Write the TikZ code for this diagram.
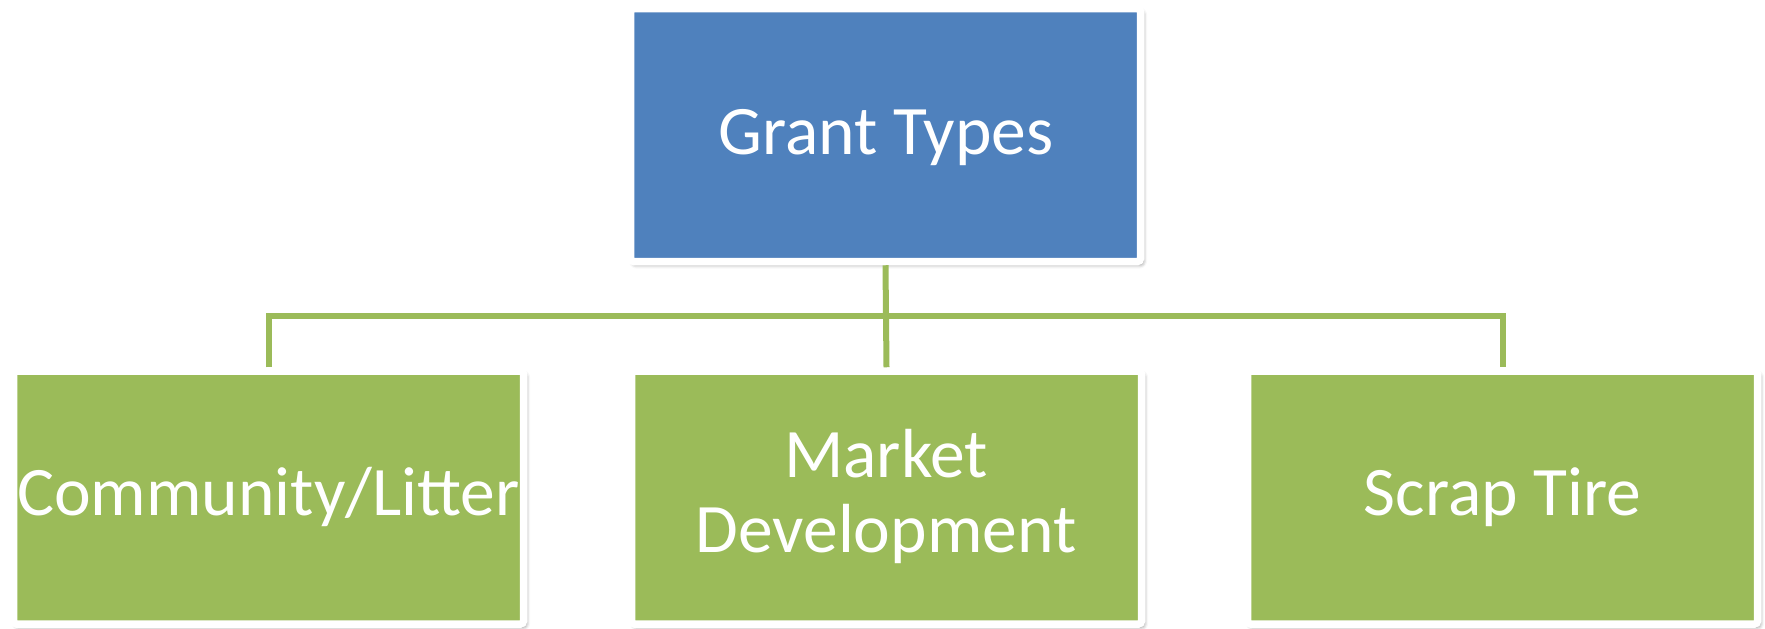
\documentclass[tikz,border=0pt]{standalone}
\usepackage{fontspec}
\setmainfont{Carlito}
\usetikzlibrary{shadows.blur}
\definecolor{gblue}{HTML}{4F81BD}
\definecolor{ggreen}{HTML}{9BBB59}
\tikzset{
  card/.style={draw=white, line width=7.5pt, rounded corners=3pt,
    minimum width=510pt, minimum height=253pt, inner sep=0pt,
    blur shadow={shadow xshift=2.5pt, shadow yshift=-3pt, shadow blur radius=4pt, shadow opacity=50}},
  bluecard/.style={card, fill=gblue},
  greencard/.style={card, fill=ggreen},
  txt/.style={text=white, font=\fontsize{69.5}{75}\selectfont, align=center, inner sep=0pt},
  conn/.style={draw=ggreen, line width=6pt}
}
\begin{document}
\begin{tikzpicture}[x=1pt,y=-1pt]
\useasboundingbox (0,0) rectangle (1765,629);
\node[bluecard] (T) at (885.5,135) {};
\node[greencard] (L) at (268.5,497.5) {};
\node[greencard] (M) at (886.5,497.5) {};
\node[greencard] (R) at (1502.5,497.5) {};
\coordinate (hub) at (886,316);
\draw[conn] (T.south) -- (M.north);
\draw[conn] (L.north) |- (hub) -| (R.north);
\node[txt, anchor=base] (Tt) at (886,154) {Grant Types};
\node[txt, anchor=base] (Lt) at (268.5,515) {Community/Litter};
\node[txt, anchor=base] (Mt) at (886,552) {Market\\Development};
\node[txt, anchor=base] (Rt) at (1502.5,515) {Scrap Tire};
\end{tikzpicture}
\end{document}
